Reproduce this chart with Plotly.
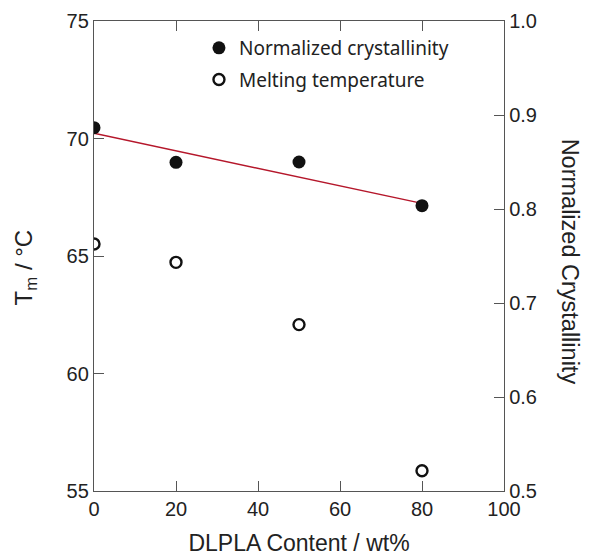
import plotly.graph_objects as go

dlpla = [0, 20, 50, 80]
crystallinity = [0.8865, 0.8497, 0.850, 0.8035]
tm = [65.51, 64.73, 62.08, 55.86]
fit_x = [0, 80]
fit_y = [0.8805, 0.806]

axis_color = "#555555"
font_main = "Liberation Sans, Arial, sans-serif"

fig = go.Figure()
fig.add_trace(go.Scatter(
    x=fit_x, y=fit_y, mode="lines", yaxis="y2",
    line=dict(color="#b5172b", width=1.5), showlegend=False, hoverinfo="skip"))
fig.add_trace(go.Scatter(
    x=dlpla, y=crystallinity, mode="markers", yaxis="y2",
    name="Normalized crystallinity", legendgroup="a",
    marker=dict(symbol="circle", size=13, color="#111111", line=dict(width=0))))
fig.add_trace(go.Scatter(
    x=dlpla, y=tm, mode="markers", yaxis="y",
    name="Melting temperature", legendgroup="b",
    marker=dict(symbol="circle-open", size=11, color="#111111", line=dict(width=2.4))))

fig.update_layout(
    width=584, height=548,
    margin=dict(l=86, r=88, t=13, b=65),
    paper_bgcolor="white", plot_bgcolor="white",
    font=dict(family=font_main, size=20, color="#222222"),
    showlegend=True,
    legend=dict(x=0.256, y=0.983, xanchor="left", yanchor="top",
                bgcolor="rgba(0,0,0,0)", borderwidth=0,
                font=dict(family="Noto Sans, sans-serif", size=19, color="#222222"),
                tracegroupgap=4, itemsizing="trace"),
    xaxis=dict(range=[0, 100], tickvals=[0, 20, 40, 60, 80, 100],
               ticks="inside", ticklen=10, tickcolor=axis_color, tickwidth=1,
               showline=True, linecolor=axis_color, linewidth=1.3, mirror="ticks",
               showgrid=False, zeroline=False, automargin=False,
               title=dict(text="DLPLA Content / wt%", standoff=17, font=dict(size=23)),
               tickfont=dict(size=20)),
    yaxis=dict(range=[55, 75], tickvals=[55, 60, 65, 70, 75],
               ticks="inside", ticklen=10, tickcolor=axis_color, tickwidth=1,
               showline=True, linecolor=axis_color, linewidth=1.3,
               showgrid=False, zeroline=False, automargin=False,
               tickfont=dict(size=20)),
    yaxis2=dict(range=[0.5, 1.0], tickvals=[0.5, 0.6, 0.7, 0.8, 0.9, 1.0],
                tickformat=".1f", overlaying="y", side="right",
                ticks="inside", ticklen=10, tickcolor=axis_color, tickwidth=1,
                showline=True, linecolor=axis_color, linewidth=1.3,
                showgrid=False, zeroline=False, automargin=False,
                tickfont=dict(size=20)),
    annotations=[
        dict(text="Normalized Crystallinity", textangle=90,
             xref="paper", yref="paper", x=1.161, y=0.488,
             xanchor="center", yanchor="middle", showarrow=False,
             font=dict(size=23.5, family=font_main, color="#222222")),
        dict(text="T<sub>m</sub> / °C", textangle=-90,
             xref="paper", yref="paper", x=-0.168, y=0.476,
             xanchor="center", yanchor="middle", showarrow=False,
             font=dict(size=24, family=font_main, color="#222222")),
    ],
)

fig.write_html("out.html")
